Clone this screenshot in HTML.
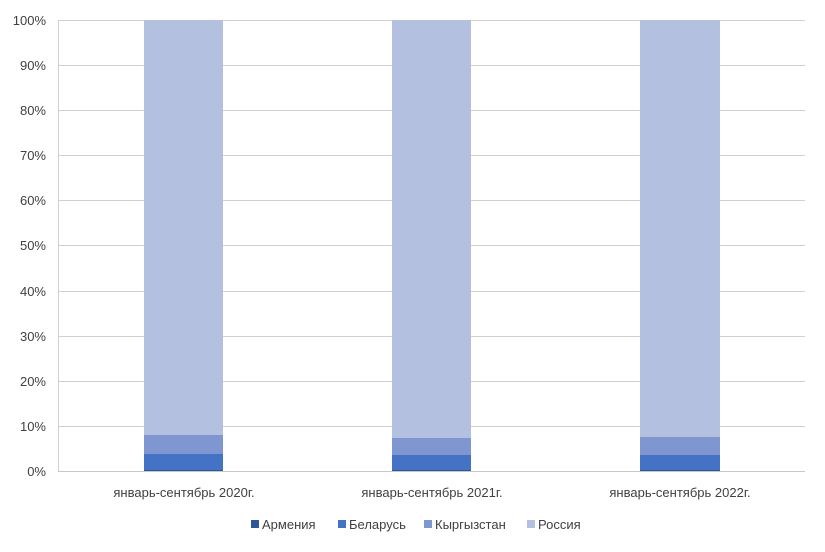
<!DOCTYPE html>
<html><head><meta charset="utf-8"><style>
html,body{margin:0;padding:0;background:#fff;}
svg{display:block;font-family:"Liberation Sans",sans-serif;}
</style></head><body>
<svg width="825" height="552" viewBox="0 0 825 552" xmlns="http://www.w3.org/2000/svg">
<g stroke="#d0d0d0" stroke-width="1">
<line x1="58" x2="805" y1="20.5" y2="20.5"/>
<line x1="58" x2="805" y1="65.5" y2="65.5"/>
<line x1="58" x2="805" y1="110.5" y2="110.5"/>
<line x1="58" x2="805" y1="155.5" y2="155.5"/>
<line x1="58" x2="805" y1="200.5" y2="200.5"/>
<line x1="58" x2="805" y1="245.5" y2="245.5"/>
<line x1="58" x2="805" y1="291.5" y2="291.5"/>
<line x1="58" x2="805" y1="336.5" y2="336.5"/>
<line x1="58" x2="805" y1="381.5" y2="381.5"/>
<line x1="58" x2="805" y1="426.5" y2="426.5"/>
<line x1="58.5" x2="58.5" y1="20" y2="471"/>
</g>
<g font-size="13" fill="#404040" text-anchor="end">
<text x="46" y="25">100%</text><text x="46" y="70">90%</text><text x="46" y="115">80%</text>
<text x="46" y="160">70%</text><text x="46" y="205">60%</text><text x="46" y="250">50%</text>
<text x="46" y="296">40%</text><text x="46" y="341">30%</text><text x="46" y="386">20%</text>
<text x="46" y="431">10%</text><text x="46" y="476">0%</text>
</g>
<g>
<rect x="144" y="20" width="79" height="415" fill="#b4c0e0"/>
<rect x="144" y="435" width="79" height="19" fill="#7f96d0"/>
<rect x="144" y="454" width="79" height="16" fill="#4472c4"/>
<rect x="144" y="470" width="79" height="1" fill="#2e5597"/>
<rect x="392" y="20" width="79" height="418" fill="#b4c0e0"/>
<rect x="392" y="438" width="79" height="17" fill="#7f96d0"/>
<rect x="392" y="455" width="79" height="15" fill="#4472c4"/>
<rect x="392" y="470" width="79" height="1" fill="#2e5597"/>
<rect x="640" y="20" width="80" height="417" fill="#b4c0e0"/>
<rect x="640" y="437" width="80" height="18" fill="#7f96d0"/>
<rect x="640" y="455" width="80" height="15" fill="#4472c4"/>
<rect x="640" y="470" width="80" height="1" fill="#2e5597"/>
</g>
<line x1="58" x2="805" y1="471.5" y2="471.5" stroke="#c8c8c8"/>
<g font-size="13" fill="#404040" text-anchor="middle">
<text x="184" y="497">январь-сентябрь 2020г.</text>
<text x="432" y="497">январь-сентябрь 2021г.</text>
<text x="680" y="497">январь-сентябрь 2022г.</text>
</g>
<g font-size="13" fill="#404040">
<rect x="251" y="520" width="8" height="8" fill="#2e5597"/><text x="262" y="529">Армения</text>
<rect x="338" y="520" width="8" height="8" fill="#4472c4"/><text x="349" y="529">Беларусь</text>
<rect x="424" y="520" width="8" height="8" fill="#7f96d0"/><text x="435" y="529">Кыргызстан</text>
<rect x="527" y="520" width="8" height="8" fill="#b4c0e0"/><text x="538" y="529">Россия</text>
</g>
</svg>
</body></html>
